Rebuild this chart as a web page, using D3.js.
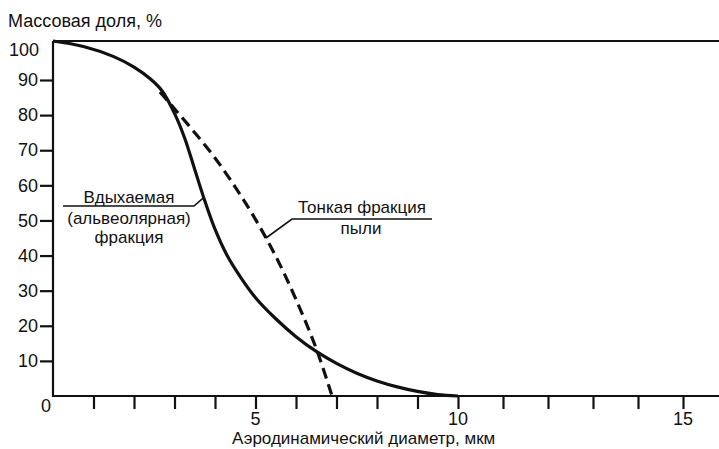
<!DOCTYPE html>
<html>
<head>
<meta charset="utf-8">
<script src="https://cdn.jsdelivr.net/npm/d3@7"></script>
<style>
body { margin: 0; background: #fff; }
text { font-family: "Liberation Sans", Arial, sans-serif; fill: #111; }
</style>
</head>
<body>
<div id="chart"></div>
<script>
// Data
var inhaledX = [0, 0.75, 1.5, 2.0, 2.4, 2.7, 3.0, 3.25, 3.5, 3.75, 4.0, 4.3, 4.65, 5.0, 5.5, 6.0, 6.5, 7.0, 7.5, 8.0, 8.5, 9.0, 9.5, 10];
var inhaledY = [100, 98.6, 96.0, 93.3, 90.3, 86.8, 80.5, 73.5, 64.5, 55.5, 47.5, 40.0, 33.5, 28.0, 22.0, 16.9, 12.7, 9.3, 6.5, 4.3, 2.6, 1.3, 0.4, 0];
var fineX = [2.64, 3.0, 3.5, 4.0, 4.5, 5.0, 5.5, 6.0, 6.5, 6.89];
var fineY = [86.6, 81.8, 75.0, 67.8, 59.5, 50.3, 39.8, 27.5, 13.5, 0];
var xTicks = [1, 2, 3, 4, 5, 6, 7, 8, 9, 10, 11, 12, 13, 14, 15];
var xTickLabels = [5, 10, 15];
var yTicks = [10, 20, 30, 40, 50, 60, 70, 80, 90];

// Parameters
var width = 719;
var height = 449;
var plotLeft = 53;
var plotTop = 41;
var plotBottom = 396;

var svg = d3.select("#chart").append("svg")
    .attr("width", width)
    .attr("height", height);

svg.append("rect").attr("width", width).attr("height", height).attr("fill", "#fff");

// the drawing is hand made, so the scales are slightly uneven
var xScale = d3.scaleLinear().domain([0, 10, 16]).range([plotLeft, 458, 728]);
var yScale = d3.scaleLinear().domain([0, 90, 100]).range([plotBottom, 80, plotTop]);

// Axes
var xAxis = d3.axisBottom(xScale).tickValues(xTicks).tickSize(13).tickFormat("");
var gx = svg.append("g").attr("transform", "translate(0," + plotBottom + ")").call(xAxis);
gx.select(".domain").remove();
gx.selectAll(".tick line").attr("stroke", "#111").attr("stroke-width", 2.2);

var yAxis = d3.axisLeft(yScale).tickValues(yTicks).tickSize(13).tickPadding(2);
var gy = svg.append("g").attr("transform", "translate(" + plotLeft + ",0)").call(yAxis);
gy.select(".domain").remove();
gy.selectAll(".tick line").attr("stroke", "#111").attr("stroke-width", 2.2);
gy.selectAll(".tick text").attr("font-size", 18).attr("fill", "#111")
    .style("font-family", "'Liberation Sans', Arial, sans-serif");

// x labels
svg.selectAll(".xlab").data(xTickLabels).enter().append("text")
    .attr("class", "xlab")
    .attr("x", function(d){ return xScale(d); })
    .attr("y", 425)
    .attr("text-anchor", "middle")
    .attr("font-size", 18)
    .text(function(d){ return d; });

svg.append("text").attr("x", 46).attr("y", 412).attr("text-anchor", "middle").attr("font-size", 18).text("0");
svg.append("text").attr("x", 39).attr("y", yScale(100) + 15).attr("text-anchor", "end").attr("font-size", 18).text("100");

// Frame
var frame = svg.append("g").attr("stroke", "#111").attr("stroke-width", 2.2).attr("fill", "none");
frame.append("line").attr("x1", plotLeft).attr("x2", plotLeft).attr("y1", plotTop).attr("y2", plotBottom + 1);
frame.append("line").attr("x1", plotLeft).attr("x2", width).attr("y1", plotTop).attr("y2", plotTop);
frame.append("line").attr("x1", plotLeft - 1).attr("x2", width).attr("y1", plotBottom).attr("y2", plotBottom);

// Titles
svg.append("text").attr("x", 8).attr("y", 27).attr("font-size", 18).text("Массовая доля, %");
svg.append("text").attr("x", 232).attr("y", 444).attr("font-size", 17).text("Аэродинамический диаметр, мкм");

// Curves
var line = d3.line()
    .x(function(d){ return xScale(d[0]); })
    .y(function(d){ return yScale(d[1]); })
    .curve(d3.curveCatmullRom.alpha(0.5));

svg.append("path")
    .datum(d3.zip(inhaledX, inhaledY))
    .attr("d", line)
    .attr("fill", "none")
    .attr("stroke", "#111")
    .attr("stroke-width", 3.2);

svg.append("path")
    .datum(d3.zip(fineX, fineY))
    .attr("d", line)
    .attr("fill", "none")
    .attr("stroke", "#111")
    .attr("stroke-width", 3.2)
    .attr("stroke-dasharray", "11,6");

// Callouts
var callout = svg.append("g").attr("stroke", "#111").attr("stroke-width", 1.6).attr("fill", "none");
callout.append("polyline")
    .attr("points", [[63, 206], [194, 206], [xScale(3.72), yScale(56.5)]].join(" "));
callout.append("polyline")
    .attr("points", [[432, 219], [292, 219], [xScale(5.26), yScale(45)]].join(" "));

svg.append("text").attr("x", 129).attr("y", 203).attr("text-anchor", "middle").attr("font-size", 17).text("Вдыхаемая");
svg.append("text").attr("x", 129).attr("y", 224).attr("text-anchor", "middle").attr("font-size", 17).text("(альвеолярная)");
svg.append("text").attr("x", 129).attr("y", 243).attr("text-anchor", "middle").attr("font-size", 17).text("фракция");
svg.append("text").attr("x", 362).attr("y", 213).attr("text-anchor", "middle").attr("font-size", 17).text("Тонкая фракция");
svg.append("text").attr("x", 361).attr("y", 234).attr("text-anchor", "middle").attr("font-size", 17).text("пыли");
</script>
</body>
</html>
